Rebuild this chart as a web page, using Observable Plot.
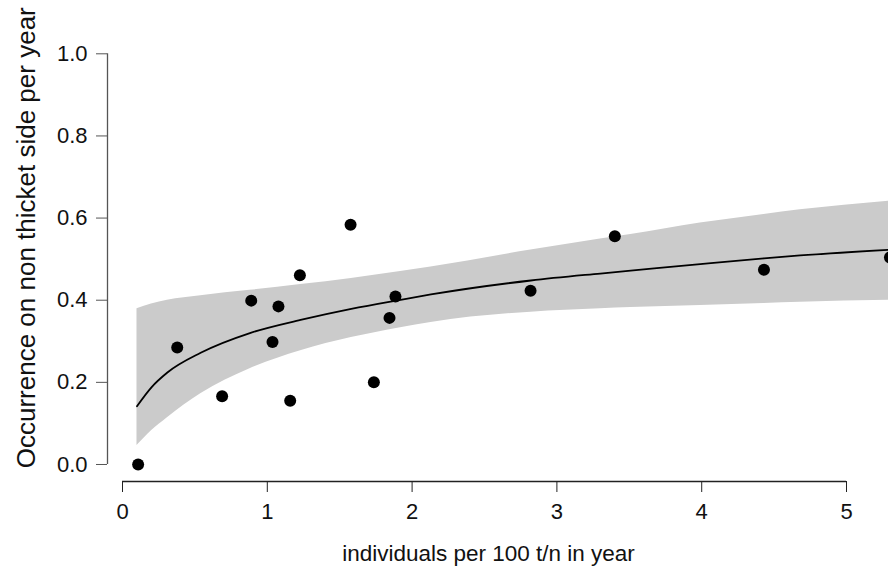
<!DOCTYPE html>
<html>
<head>
<meta charset="utf-8">
<script src="https://cdn.jsdelivr.net/npm/d3@7"></script>
<script src="https://cdn.jsdelivr.net/npm/@observablehq/plot@0.6"></script>
<style>
  html, body { margin: 0; padding: 0; background: #fff; }
  #chart { width: 888px; height: 576px; }
  #chart svg g[aria-label="x-axis tick label"],
  #chart svg g[aria-label="y-axis tick label"] { font-size: 22px !important; }
</style>
</head>
<body>
<div id="chart"></div>
<script>
// Observed points
const pointX = [0.108, 0.378, 0.688, 0.889, 1.036, 1.077, 1.158, 1.225, 1.575, 1.736, 1.844, 1.885, 2.818, 3.40, 4.43, 5.30];
const pointY = [0.000, 0.285, 0.166, 0.399, 0.298, 0.385, 0.155, 0.461, 0.584, 0.200, 0.357, 0.409, 0.423, 0.556, 0.474, 0.504];

// Fitted curve with confidence band
const fitX  = [0.10, 0.20, 0.31, 0.54, 0.88, 1.23, 1.58, 1.92, 2.13, 2.82, 3.30, 3.51, 3.99, 4.43, 4.68, 5.35];
const fitY  = [0.142, 0.188, 0.224, 0.272, 0.320, 0.352, 0.379, 0.401, 0.414, 0.448, 0.465, 0.472, 0.488, 0.502, 0.509, 0.524];
const fitLo = [0.046, 0.082, 0.114, 0.172, 0.233, 0.277, 0.309, 0.333, 0.346, 0.371, 0.379, 0.382, 0.387, 0.392, 0.395, 0.400];
const fitHi = [0.379, 0.391, 0.400, 0.411, 0.424, 0.438, 0.453, 0.470, 0.481, 0.522, 0.549, 0.560, 0.588, 0.609, 0.620, 0.643];

// Axis ticks and titles
const xTicks = [0, 1, 2, 3, 4, 5];
const yTicks = [0, 0.2, 0.4, 0.6, 0.8, 1.0];
const xTitle = "individuals per 100 t/n in year";
const yTitle = "Occurrence on non thicket side per year";

const points = pointX.map((x, i) => ({x, y: pointY[i]}));
const fit = fitX.map((x, i) => ({x, y: fitY[i], lo: fitLo[i], hi: fitHi[i]}));

const xMin = -0.1036, xMax = 5.29;
const yMin = -0.0414, yMax = 1.0409;

const chart = Plot.plot({
  width: 888,
  height: 576,
  marginLeft: 107,
  marginRight: 0,
  marginTop: 36.5,
  marginBottom: 95,
  style: {fontFamily: "'Liberation Sans', Arial, sans-serif", fontSize: "20px", background: "#fff", color: "#111"},
  x: {domain: [xMin, xMax]},
  y: {domain: [yMin, yMax]},
  marks: [
    Plot.areaY(fit, {x: "x", y1: "lo", y2: "hi", fill: "#cbcbcb", curve: "monotone-x", clip: true}),
    Plot.line(fit, {x: "x", y: "y", stroke: "#000", strokeWidth: 1.8, curve: "monotone-x", clip: true}),
    Plot.dot(points, {x: "x", y: "y", r: 6, fill: "#000", stroke: "none", clip: true}),
    // x axis
    Plot.ruleY([yMin], {x1: 0, x2: 5, stroke: "#222", strokeWidth: 1.3}),
    Plot.axisX({ticks: xTicks, tickSize: 11, tickPadding: 11, anchor: "bottom", label: null,
      stroke: "#222", tickFormat: d3.format("d"), fontSize: 22, fill: "#111"}),
    // y axis
    Plot.ruleX([xMin], {y1: 0, y2: 1, stroke: "#555", strokeWidth: 1.3}),
    Plot.axisY({ticks: yTicks, tickSize: 11, tickPadding: 9, anchor: "left", label: null,
      stroke: "#555", tickFormat: d3.format(".1f"), fontSize: 22, fill: "#111"}),
    // titles
    Plot.text([xTitle], {frameAnchor: "bottom", dx: -9.5, dy: 79, fontSize: 22.5, fill: "#111", textAnchor: "middle"}),
    Plot.text([yTitle], {frameAnchor: "left", rotate: -90, dx: -81, dy: -21.5, fontSize: 26, fill: "#111", textAnchor: "middle"})
  ]
});

document.getElementById("chart").appendChild(chart);
</script>
</body>
</html>
